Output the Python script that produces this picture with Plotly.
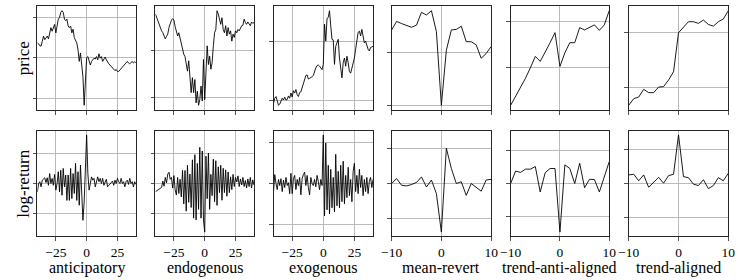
import plotly.graph_objects as go

# ---------------- data ----------------
x_long = list(range(-40, 41))
x_short = list(range(-10, 11))

panel_names = ["anticipatory", "endogenous", "exogenous",
               "mean-revert", "trend-anti-aligned", "trend-aligned"]
row_names = ["price", "log-return"]

long_ticks = [-25, 0, 25]
short_ticks = [-10, 0, 10]
long_tick_text = ["\u221225", "0", "25"]
short_tick_text = ["\u221210", "0", "10"]

price_anticipatory = [
    0.37, 0.35, 0.30, 0.29, 0.41, 0.54, 0.45, 0.50, 0.54, 0.47,
    0.58, 0.75, 0.66, 0.75, 0.83, 0.62, 0.79, 0.96, 1.00, 1.13,
    1.17, 1.13, 0.96, 0.92, 0.96, 0.79, 0.75, 0.79, 0.62, 0.71,
    0.50, 0.41, 0.37, 0.20, -0.09, 0.12, -0.18, -0.47, -1.18, -0.68,
    0.00, 0.03, -0.05, -0.18, -0.09, -0.05, -0.01, -0.03, 0.03, -0.05,
    0.10, -0.01, 0.03, -0.09, -0.03, 0.02, -0.05, -0.12, -0.15, -0.18,
    -0.22, -0.24, -0.30, -0.32, -0.29, -0.34, -0.34, -0.30, -0.26, -0.22,
    -0.18, -0.15, -0.13, -0.09, -0.13, -0.15, -0.12, -0.09, -0.13, -0.10,
    -0.12]

price_endogenous = [
    0.79, 0.71, 0.64, 0.57, 0.48, 0.43, 0.39, 0.32, 0.26, 0.31,
    0.36, 0.50, 0.59, 0.66, 0.69, 0.66, 0.52, 0.39, 0.32, 0.39,
    0.26, 0.14, 0.04, -0.07, -0.12, -0.25, -0.43, -0.21, -0.68, -0.89,
    -0.57, -0.89, -0.61, -1.11, -0.86, -1.16, -1.04, -0.75, -1.07, -0.18,
    -1.04, -0.32, 0.11, -0.29, -0.11, -0.39, -0.25, 0.11, 0.39, 0.46,
    0.86, 0.79, 0.68, 0.57, 0.71, 0.46, 0.39, 0.54, 0.32, 0.50,
    0.36, 0.43, 0.21, 0.36, 0.29, 0.43, 0.39, 0.46, 0.43, 0.50,
    0.54, 0.55, 0.68, 0.61, 0.57, 0.62, 0.59, 0.54, 0.62, 0.59,
    0.61]

price_exogenous = [
    -1.06, -0.97, -0.94, -1.00, -1.09, -1.07, -1.03, -0.97, -1.00, -0.95,
    -1.00, -0.99, -0.93, -0.97, -0.88, -0.95, -0.84, -0.88, -0.82, -0.91,
    -0.94, -0.87, -0.86, -0.78, -0.72, -0.65, -0.58, -0.57, -0.64, -0.63,
    -0.62, -0.60, -0.58, -0.49, -0.45, -0.41, -0.40, -0.42, -0.45, -0.48,
    -0.39, 0.30, 0.01, 0.39, 0.42, 0.53, 0.27, 0.04, 0.03, -0.39,
    -0.08, -0.02, 0.04, -0.28, -0.42, -0.62, -0.36, -0.28, -0.42, -0.25,
    -0.36, -0.51, -0.54, -0.45, -0.39, -0.28, -0.13, 0.04, 0.16, 0.18,
    0.10, 0.21, 0.10, -0.02, 0.01, -0.08, -0.13, -0.16, -0.10, -0.09,
    -0.08]

price_mean_revert = [0.42, 0.58, 0.54, 0.51, 0.47, 0.51, 0.75, 0.70, 0.78, 0.39,
                     -0.99, 0.04, 0.42, 0.43, 0.49, 0.20, 0.20, 0.14, -0.11, -0.02, 0.11]

price_trend_anti = [-0.83, -0.64, -0.46, -0.24, -0.01, 0.24, 0.13, 0.32, 0.54, 0.76,
                    0.02, 0.32, 0.54, 0.54, 0.87, 0.82, 0.87, 0.93, 0.81, 0.93, 1.24]

price_trend_aligned = [-0.32, -0.20, -0.17, -0.03, -0.09, -0.09, 0.01, 0.02, 0.14, 0.29,
                       1.00, 1.11, 1.20, 1.20, 1.17, 1.23, 1.15, 1.12, 1.20, 1.25, 1.40]

ret_anticipatory = [
    -0.28, 0.00, 0.06, -0.11, 0.11, 0.17, 0.19, 0.03, 0.19, -0.06,
    0.33, 0.00, 0.17, -0.06, 0.30, -0.22, 0.00, 0.39, -0.28, 0.44,
    -0.39, 0.50, -0.11, 0.28, -0.56, 0.28, -0.56, 0.50, -0.50, 0.33,
    -0.33, 0.67, -0.56, 0.39, -0.72, 0.61, -0.67, -1.22, -0.61, 0.28,
    1.61, 0.33, -0.22, 0.00, 0.22, 0.11, 0.17, -0.11, 0.11, 0.22,
    0.06, 0.17, 0.00, 0.17, -0.06, 0.06, 0.14, -0.11, -0.06, -0.03,
    0.03, 0.08, -0.06, 0.11, 0.00, 0.17, 0.06, 0.00, 0.17, 0.00,
    0.06, -0.11, 0.06, 0.11, -0.03, 0.17, 0.00, 0.06, -0.11, 0.06,
    -0.03]

ret_endogenous = [
    -0.27, -0.24, -0.21, -0.17, -0.15, -0.13, 0.08, -0.09, 0.20, 0.02,
    0.31, 0.37, 0.14, 0.20, -0.15, 0.26, -0.21, -0.38, 0.20, -0.33,
    0.14, -0.44, 0.43, -0.67, 0.43, -0.91, 0.60, -0.62, 0.31, -0.79,
    0.78, -1.14, 0.95, -1.20, 0.66, -0.85, 1.19, -1.14, 1.07, -1.20,
    -1.60, 0.90, -0.50, 1.00, -0.85, 0.30, -0.40, 0.80, -0.60, 0.75,
    -0.72, 0.55, -0.30, 0.60, -0.55, 0.50, -0.30, 0.45, -0.42, 0.38,
    -0.30, 0.22, -0.20, 0.30, -0.10, 0.20, 0.05, 0.25, -0.10, 0.15,
    -0.05, 0.20, -0.10, 0.10, -0.15, 0.15, -0.10, 0.20, -0.15, 0.12,
    -0.05]

ret_exogenous = [
    -0.20, 0.22, 0.00, -0.15, 0.10, -0.05, 0.12, -0.20, 0.08, -0.10,
    0.15, -0.05, 0.02, -0.25, 0.25, -0.25, 0.12, 0.20, -0.15, 0.10,
    -0.05, 0.15, -0.28, 0.12, 0.22, 0.28, -0.05, 0.20, -0.10, -0.28,
    0.15, 0.00, -0.05, 0.10, -0.08, 0.20, 0.05, -0.15, 0.10, -0.05,
    1.20, -0.80, 1.00, -0.65, 0.45, -0.75, 0.35, -0.60, 0.15, -0.70,
    0.72, -0.55, 0.30, -0.60, 0.45, -0.45, 0.55, -0.50, 0.20, -0.35,
    0.40, -0.30, 0.10, -0.45, 0.30, 0.50, -0.20, 0.20, -0.25, 0.35,
    -0.10, 0.20, -0.30, 0.10, -0.20, 0.15, -0.25, 0.05, 0.15, -0.10,
    0.10]

ret_mean_revert = [0.00, 0.14, -0.05, -0.07, -0.03, 0.03, 0.19, -0.10, 0.10, -0.29,
                   -1.39, 1.01, 0.43, 0.00, 0.05, -0.34, 0.00, -0.10, -0.22, 0.10, 0.12]

ret_trend_anti = [0.00, 0.38, 0.34, 0.44, 0.44, 0.52, -0.26, 0.33, 0.46, 0.46,
                  -1.49, 0.57, 0.46, 0.00, 0.62, -0.13, 0.13, 0.12, -0.26, 0.21, 0.67]

ret_trend_aligned = [0.25, 0.27, 0.08, 0.25, -0.11, 0.04, 0.18, 0.01, 0.23, 0.27,
                     1.42, 0.20, 0.17, -0.02, -0.06, 0.11, -0.15, -0.06, 0.17, 0.08, 0.30]

price_series = [price_anticipatory, price_endogenous, price_exogenous,
                price_mean_revert, price_trend_anti, price_trend_aligned]
ret_series = [ret_anticipatory, ret_endogenous, ret_exogenous,
              ret_mean_revert, ret_trend_anti, ret_trend_aligned]

# ---------------- layout geometry (pixels) ----------------
W, H = 747, 280
col_px = [(27, 128), (148, 249), (269, 371), (390, 492), (512, 613), (633, 735)]
row_px = [(6, 110), (131, 236)]

FONT = "Liberation Serif"
GRID = "#b4b4b4"
SPINE = "#262626"

fig = go.Figure()
layout = dict(width=W, height=H, margin=dict(l=0, r=0, t=0, b=0),
              plot_bgcolor="white", paper_bgcolor="white", showlegend=False,
              font=dict(family=FONT, color="black"))

for r in range(2):
    for c in range(6):
        i = r * 6 + c + 1
        xs = x_long if c < 3 else x_short
        ys = price_series[c] if r == 0 else ret_series[c]
        fig.add_trace(go.Scatter(x=xs, y=ys, mode="lines",
                                 line=dict(color="black", width=0.9),
                                 xaxis=f"x{i}", yaxis=f"y{i}",
                                 hoverinfo="skip"))
        if r == 0:
            lo, hi = min(ys), max(ys)
            pad = 0.05 * (hi - lo)
            yr = [lo - pad, hi + pad]
        else:
            m = max(abs(v) for v in ys) * 1.08
            yr = [-m, m]
        x0, x1 = col_px[c]
        y0, y1 = row_px[r]
        xr = [xs[0], xs[-1]]
        layout[f"xaxis{i}"] = dict(
            domain=[x0 / W, x1 / W], anchor=f"y{i}", range=xr,
            tickmode="array",
            tickvals=long_ticks if c < 3 else short_ticks,
            ticktext=long_tick_text if c < 3 else short_tick_text,
            showticklabels=(r == 1), ticks="outside", ticklen=3.5,
            tickwidth=0.8, tickcolor=SPINE,
            tickfont=dict(family=FONT, size=13.5, color="black"),
            showgrid=True, gridcolor=GRID, gridwidth=0.9, zeroline=False,
            showline=True, linecolor=SPINE, linewidth=1, mirror=True)
        layout[f"yaxis{i}"] = dict(
            domain=[1 - y1 / H, 1 - y0 / H], anchor=f"x{i}", range=yr,
            tickmode="linear", tick0=0, dtick=1,
            showticklabels=False, ticks="outside", ticklen=3.5,
            tickwidth=0.8, tickcolor=SPINE,
            showgrid=True, gridcolor=GRID, gridwidth=0.9, zeroline=False,
            showline=True, linecolor=SPINE, linewidth=1, mirror=True)

annotations = []
for c, name in enumerate(panel_names):
    x0, x1 = col_px[c]
    annotations.append(dict(text=name, x=(x0 + x1) / 2 / W, y=1 - 257 / H,
                            xref="paper", yref="paper", xanchor="center",
                            yanchor="top", showarrow=False,
                            font=dict(family=FONT, size=16, color="black")))
for r, name in enumerate(row_names):
    y0, y1 = row_px[r]
    annotations.append(dict(text=name, x=12.5 / W, y=1 - (y0 + y1) / 2 / H,
                            xref="paper", yref="paper", xanchor="center",
                            yanchor="middle", textangle=-90, showarrow=False,
                            font=dict(family=FONT, size=17, color="black")))
layout["annotations"] = annotations

fig.update_layout(**layout)
fig.write_html("out.html",
               config={"displayModeBar": False, "staticPlot": True},
               post_script="document.body.style.margin='0px';"
                           "document.body.style.overflow='hidden';")
